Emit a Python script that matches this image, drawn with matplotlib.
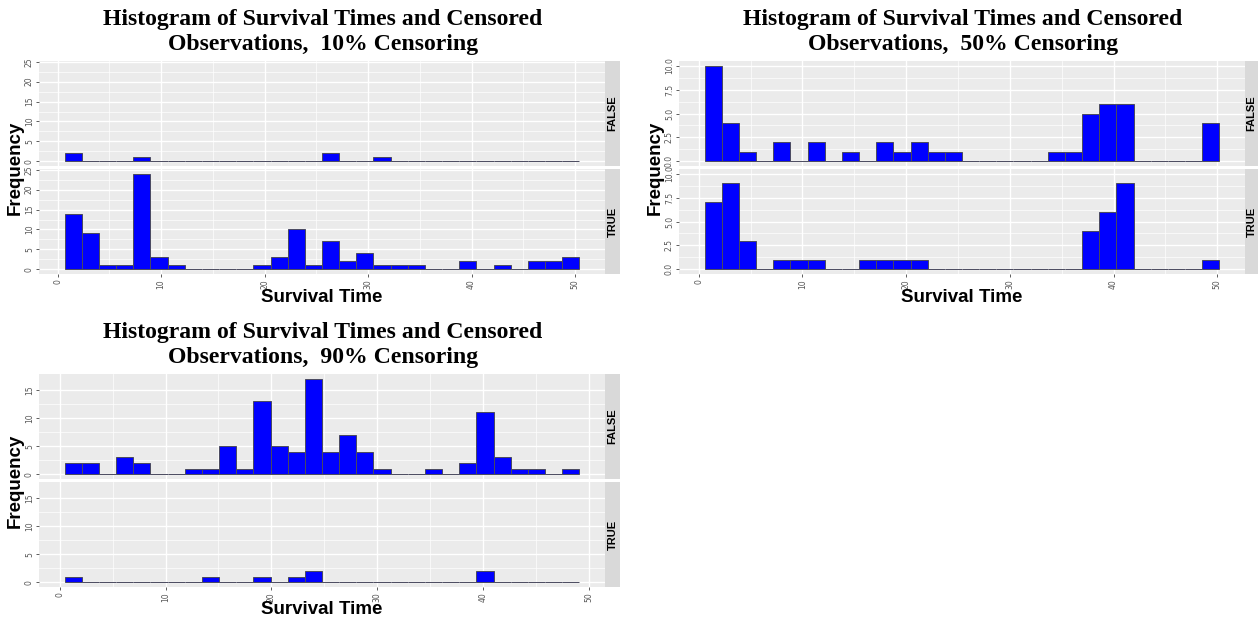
import numpy as np
import matplotlib
matplotlib.use('Agg')
import matplotlib.pyplot as plt

W, H = 1258, 620

# bin layout for each chart: (first bin left edge, bin width), 30 bins
bins10 = (0.69, 1.657)
bins50 = (0.58, 1.654)
bins90 = (0.48, 1.62)

# counts per bin, censored == FALSE / TRUE
false10 = [2, 0, 0, 0, 1, 0, 0, 0, 0, 0, 0, 0, 0, 0, 0, 2, 0, 0, 1, 0, 0, 0, 0, 0, 0, 0, 0, 0, 0, 0]
true10 = [14, 9, 1, 1, 24, 3, 1, 0, 0, 0, 0, 1, 3, 10, 1, 7, 2, 4, 1, 1, 1, 0, 0, 2, 0, 1, 0, 2, 2, 3]

false50 = [10, 4, 1, 0, 2, 0, 2, 0, 1, 0, 2, 1, 2, 1, 1, 0, 0, 0, 0, 0, 1, 1, 5, 6, 6, 0, 0, 0, 0, 4]
true50 = [7, 9, 3, 0, 1, 1, 1, 0, 0, 1, 1, 1, 1, 0, 0, 0, 0, 0, 0, 0, 0, 0, 4, 6, 9, 0, 0, 0, 0, 1]

false90 = [2, 2, 0, 3, 2, 0, 0, 1, 1, 5, 1, 13, 5, 4, 17, 4, 7, 4, 1, 0, 0, 1, 0, 2, 11, 3, 1, 1, 0, 1]
true90 = [1, 0, 0, 0, 0, 0, 0, 0, 1, 0, 0, 1, 0, 1, 2, 0, 0, 0, 0, 0, 0, 0, 0, 0, 2, 0, 0, 0, 0, 0]

yticks10 = [0, 5, 10, 15, 20, 25]
yticks50 = [0, 2.5, 5.0, 7.5, 10.0]
ylabels50 = ['0.0', '2.5', '5.0', '7.5', '10.0']
yticks90 = [0, 5, 10, 15]
xticks = [0, 10, 20, 30, 40, 50]

titles = ['Histogram of Survival Times and Censored\nObservations,  10% Censoring',
          'Histogram of Survival Times and Censored\nObservations,  50% Censoring',
          'Histogram of Survival Times and Censored\nObservations,  90% Censoring']

fig = plt.figure(figsize=(W / 100, H / 100), dpi=100)


def px_axes(l, t, r, b):
    return fig.add_axes([l / W, 1 - b / H, (r - l) / W, (b - t) / H])


def draw_group(left, right, strip_r, top, title, bins, false_c, true_c, yt, ylab=None):
    x0, bw = bins
    n = len(false_c)
    edges = x0 + bw * np.arange(n + 1)
    span = edges[-1] - edges[0]
    xlim = (edges[0] - 0.05 * span, edges[-1] + 0.05 * span)
    ymax = max(max(false_c), max(true_c))
    ylim = (-0.05 * ymax, 1.05 * ymax)

    rows = [(top, top + 105, false_c, 'FALSE'), (top + 108, top + 213, true_c, 'TRUE')]
    for i, (t, b, counts, lab) in enumerate(rows):
        ax = px_axes(left, t, right, b)
        ax.set_facecolor('#EBEBEB')
        ax.bar(edges[:-1], counts, width=bw, align='edge', color='#0000FF',
               edgecolor='#4a4a5e', linewidth=0.7, zorder=3)
        ax.set_xlim(xlim)
        ax.set_ylim(ylim)
        for s in ax.spines.values():
            s.set_visible(False)
        ax.set_xticks(xticks)
        ax.set_xticks([5, 15, 25, 35, 45], minor=True)
        ax.set_yticks(yt)
        ax.set_yticks([(a + b2) / 2 for a, b2 in zip(yt[:-1], yt[1:])], minor=True)
        if ylab is not None:
            ax.set_yticklabels(ylab)
        ax.grid(which='major', color='white', linewidth=1.0, zorder=0)
        ax.grid(which='minor', color='white', linewidth=0.5, zorder=0)
        ax.set_axisbelow(True)
        ax.tick_params(which='minor', length=0)
        ax.tick_params(which='major', length=2.2, width=0.6, color='#444444',
                       labelsize=5.5, labelcolor='#555555', pad=1.5)
        for tl in ax.get_yticklabels():
            tl.set_rotation(90)
            tl.set_va('center')
        if i == 0:
            ax.tick_params(axis='x', labelbottom=False, length=0)
        else:
            for tl in ax.get_xticklabels():
                tl.set_rotation(90)

        sax = px_axes(right, t, strip_r, b)
        sax.set_facecolor('#D9D9D9')
        sax.set_xticks([])
        sax.set_yticks([])
        for s in sax.spines.values():
            s.set_visible(False)
        sax.text(0.5, 0.5, lab, rotation=90, ha='center', va='center',
                 fontsize=8, fontweight='bold', family='Liberation Sans',
                 transform=sax.transAxes)

    mid = (left + right) / 2
    fig.text((left - 24) / W, 1 - (top + 106.5) / H, 'Frequency', rotation=90,
             ha='center', va='center', fontsize=13.5, fontweight='bold',
             family='Liberation Sans')
    fig.text(mid / W, 1 - (top + 236) / H, 'Survival Time', ha='center', va='center',
             fontsize=13.5, fontweight='bold', family='Liberation Sans')
    fig.text((left + 284) / W, 1 - (top - 52) / H, title, ha='center', va='top',
             fontsize=17.1, fontweight='bold', family='Liberation Serif',
             linespacing=1.28)


draw_group(39, 605, 620, 61, titles[0], bins10, false10, true10, yticks10)
draw_group(679, 1245, 1258, 61, titles[1], bins50, false50, true50, yticks50, ylabels50)
draw_group(39, 605, 620, 374, titles[2], bins90, false90, true90, yticks90)

fig.savefig('out.png', dpi=100)
